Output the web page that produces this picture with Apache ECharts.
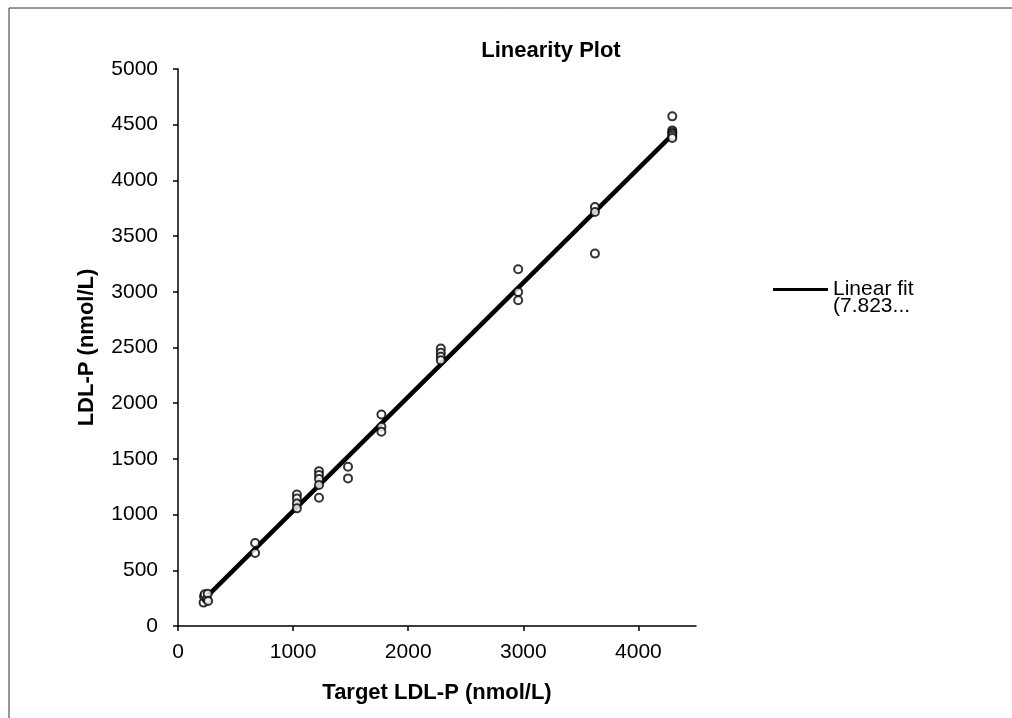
<!DOCTYPE html>
<html>
<head>
<meta charset="utf-8">
<script src="https://cdn.jsdelivr.net/npm/echarts@6/dist/echarts.min.js"></script>
<style>
  html, body { margin: 0; padding: 0; background: #fff; }
  #main { width: 1012px; height: 718px; }
</style>
</head>
<body>
<div id="main"></div>
<script>
// 目标值 (x) 与测量值 (y)
var targetX = [
  222, 226, 232, 250, 258, 262,
  670, 670,
  1033, 1033, 1033, 1033,
  1225, 1225, 1225, 1225, 1225,
  1477, 1477,
  1767, 1767, 1767,
  2283, 2283, 2283, 2283,
  2955, 2955, 2955,
  3622, 3622, 3622,
  4294, 4294, 4294, 4294, 4294, 4294
];
var measuredY = [
  210, 265, 285, 240, 290, 225,
  745, 655,
  1181, 1145, 1100, 1056,
  1390, 1355, 1319, 1265, 1151,
  1429, 1325,
  1899, 1788, 1743,
  2491, 2452, 2416, 2386,
  3202, 2999, 2924,
  3761, 3716, 3343,
  4575, 4449, 4432, 4419, 4400, 4380
];
// 线性拟合
var fitIntercept = 7.823;
var fitSlope = 1.025;
var fitX = [222, 4294];

var xTicks = [0, 1000, 2000, 3000, 4000];
var yTicks = [0, 500, 1000, 1500, 2000, 2500, 3000, 3500, 4000, 4500, 5000];

var chartDom = document.getElementById('main');
var myChart = echarts.init(chartDom);

var points = targetX.map(function (x, i) { return [x, measuredY[i]]; });
var fitLine = fitX.map(function (x) { return [x, fitIntercept + fitSlope * x]; });

var font = '"Liberation Sans", Arial, sans-serif';

var option = {
  backgroundColor: '#fff',
  animation: false,
  title: {
    text: 'Linearity Plot',
    left: 546,
    top: 35,
    textAlign: 'center',
    textStyle: { fontFamily: font, fontSize: 22, fontWeight: 'bold', color: '#000' }
  },
  legend: {
    data: ['Linear fit'],
    left: 768,
    top: 274,
    icon: 'rect',
    itemWidth: 55,
    itemHeight: 3,
    textStyle: { fontFamily: font, fontSize: 21, color: '#000' }
  },
  graphic: [
    { type: 'line', shape: { x1: 9, y1: 8, x2: 1012, y2: 8 }, style: { stroke: '#333', lineWidth: 1 } },
    { type: 'line', shape: { x1: 9, y1: 8, x2: 9, y2: 718 }, style: { stroke: '#333', lineWidth: 1 } },
    { type: 'text', left: 833, top: 296, style: { text: '(7.823...', font: '21px ' + font, fill: '#000' } }
  ],
  grid: { left: 178, right: 316, top: 69, bottom: 92 },
  xAxis: {
    type: 'value',
    min: 0,
    max: 4500,
    interval: 1000,
    name: 'Target LDL-P (nmol/L)',
    nameLocation: 'middle',
    nameGap: 56,
    nameTextStyle: { fontFamily: font, fontSize: 22, fontWeight: 'bold', color: '#000' },
    axisLine: { lineStyle: { color: '#000', width: 1.5 } },
    axisTick: { inside: false, length: 5, lineStyle: { color: '#000', width: 1.5 } },
    axisLabel: {
      fontFamily: font, fontSize: 21, color: '#000', margin: 16,
      showMaxLabel: false,
      formatter: function (v) { return xTicks.indexOf(v) >= 0 ? String(v) : ''; }
    },
    splitLine: { show: false }
  },
  yAxis: {
    type: 'value',
    min: 0,
    max: 5000,
    interval: 500,
    name: 'LDL-P (nmol/L)',
    nameLocation: 'middle',
    nameGap: 80,
    nameTextStyle: { fontFamily: font, fontSize: 22, fontWeight: 'bold', color: '#000' },
    axisLine: { show: true, lineStyle: { color: '#000', width: 1.5 } },
    axisTick: { show: true, length: 5, lineStyle: { color: '#000', width: 1.5 } },
    axisLabel: {
      fontFamily: font, fontSize: 21, color: '#000', margin: 20,
      formatter: function (v) { return yTicks.indexOf(v) >= 0 ? String(v) : ''; }
    },
    splitLine: { show: false }
  },
  series: [
    {
      name: 'Linear fit',
      type: 'line',
      data: fitLine,
      symbol: 'none',
      lineStyle: { color: '#000', width: 4.5 },
      itemStyle: { color: '#000' },
      z: 2
    },
    {
      name: 'Data',
      type: 'scatter',
      data: points,
      symbol: 'emptyCircle',
      symbolSize: 8,
      itemStyle: { color: '#000', borderColor: '#000', borderWidth: 1.5 },
      z: 3
    }
  ]
};

option && myChart.setOption(option);
</script>
</body>
</html>
